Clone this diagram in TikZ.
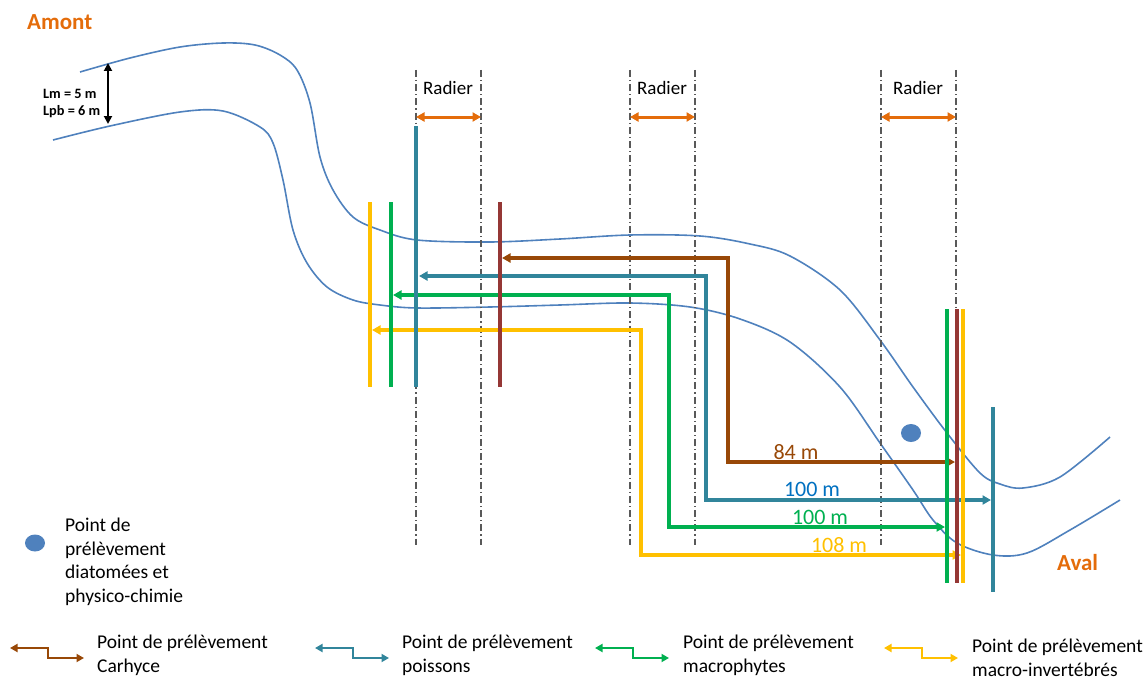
\documentclass[tikz,border=0pt]{standalone}
\usepackage{fontspec}
\setmainfont{Carlito}
\usetikzlibrary{arrows.meta,shapes.geometric}
\definecolor{riverblue}{RGB}{79,129,189}
\definecolor{orng}{RGB}{228,108,10}
\definecolor{tealc}{RGB}{49,133,155}
\definecolor{brownc}{RGB}{152,72,7}
\definecolor{redc}{RGB}{149,55,53}
\definecolor{greenc}{RGB}{0,176,80}
\definecolor{yellowc}{RGB}{255,192,0}
\definecolor{bluetxt}{RGB}{0,112,192}
\definecolor{dashgray}{RGB}{89,89,89}
\begin{document}
\begin{tikzpicture}[x=1pt,y=-1pt,
  riverline/.style={draw=riverblue,line width=1.6pt},
  radline/.style={draw=dashgray,line width=1.2pt,dash pattern=on 7pt off 3pt on 1.2pt off 3pt},
  radarrow/.style={draw=orng,line width=3pt,{Triangle[length=8.5pt,width=9pt]}-{Triangle[length=8.5pt,width=9pt]}},
  sampline/.style={line width=4pt},
  measarrow/.style={line width=3.2pt,{Triangle[length=8.5pt,width=9pt]}-{Triangle[length=8.5pt,width=9pt]}},
  legarrow/.style={line width=2.5pt,{Triangle[length=7.5pt,width=8pt]}-{Triangle[length=7.5pt,width=8pt]}},
  radtxt/.style={font=\fontsize{19}{22}\selectfont,inner sep=0pt},
  distlab/.style={font=\fontsize{22}{26}\selectfont,inner sep=0pt},
  legtxt/.style={font=\fontsize{19.5}{24}\selectfont,inner sep=0pt,align=left,anchor=west},
  bigtxt/.style={font=\fontsize{23}{27}\selectfont\bfseries,text=orng,inner sep=0pt},
  dotstyle/.style={ellipse,fill=riverblue,minimum width=20pt,minimum height=18pt,inner sep=0pt}
]
\useasboundingbox (0,0) rectangle (1146,677);

% river banks
\draw[riverline] plot[smooth,tension=0.55] coordinates {(80,72) (130,58) (180,47) (223,43) (255,45) (280,55) (297,70) (310,103) (320,157) (333,190) (353,217) (380,230) (417,240) (490,242) (560,239) (630,235) (700,236) (750,244) (790,256) (840,290) (880,340) (913,387) (947,433) (980,473) (1000,484) (1023,488) (1060,477) (1110,437)};
\draw[riverline] plot[smooth,tension=0.55] coordinates {(53,140) (110,126) (180,112) (223,111) (260,127) (273,143) (283,180) (293,230) (307,263) (327,287) (353,300) (380,305) (417,308) (490,307) (560,305) (630,303) (690,307) (740,319) (790,342) (840,387) (880,443) (913,490) (933,520) (957,543) (993,555) (1027,553) (1070,530) (1120,500)};

% titles
\node[bigtxt,anchor=west] (amont) at (27,22) {Amont};
\node[bigtxt,anchor=west] (aval) at (1057,563) {Aval};

% width arrow
\coordinate (lmtop) at (108,63);
\coordinate (lmbot) at (108,124);
\draw[line width=1.8pt,{Triangle[length=8pt,width=8pt]}-{Triangle[length=8pt,width=8pt]}] (lmtop) -- (lmbot);
\node[font=\fontsize{14.3}{17}\selectfont\bfseries,inner sep=0pt,anchor=west,align=left] (lmtxt) at (43,103) {Lm = 5 m\\Lpb = 6 m};

% radier dash-dot lines
\foreach \x/\n in {416/r1a,481/r1b,630/r2a,695/r2b,881/r3a,956/r3b}{
  \coordinate (\n t) at (\x,70);
  \coordinate (\n b) at (\x,545);
  \draw[radline] (\n t) -- (\n b);
}
\node[radtxt] (rad1) at (448,88) {Radier};
\node[radtxt] (rad2) at (662,88) {Radier};
\node[radtxt] (rad3) at (918,88) {Radier};
\coordinate (ra1) at (416,117); \coordinate (rb1) at (481,117);
\coordinate (ra2) at (630,117); \coordinate (rb2) at (695,117);
\coordinate (ra3) at (881,117); \coordinate (rb3) at (956,117);
\draw[radarrow] (ra1) -- (rb1);
\draw[radarrow] (ra2) -- (rb2);
\draw[radarrow] (ra3) -- (rb3);

% measurement arrows
\coordinate (carA) at (502,258);  \coordinate (carK) at (728,462);  \coordinate (carB) at (955,462);
\coordinate (poiA) at (419,276);  \coordinate (poiK) at (706,500);  \coordinate (poiB) at (991,500);
\coordinate (macA) at (393,295);  \coordinate (macK) at (669,527);  \coordinate (macB) at (945,527);
\coordinate (invA) at (372,330);  \coordinate (invK) at (641,555);  \coordinate (invB) at (961,555);
\draw[measarrow,draw=brownc] (carA) -| (carK) -- (carB);
\draw[measarrow,draw=tealc] (poiA) -| (poiK) -- (poiB);
\draw[measarrow,draw=greenc] (macA) -| (macK) -- (macB);
\draw[measarrow,draw=yellowc] (invA) -| (invK) -- (invB);

% left sampling lines
\coordinate (yl1) at (370,202); \coordinate (yl2) at (370,387);
\coordinate (gl1) at (391,202); \coordinate (gl2) at (391,387);
\coordinate (tl1) at (416,126); \coordinate (tl2) at (416,387);
\coordinate (rl1) at (500,202); \coordinate (rl2) at (500,387);
\draw[sampline,yellowc] (yl1) -- (yl2);
\draw[sampline,greenc] (gl1) -- (gl2);
\draw[sampline,tealc] (tl1) -- (tl2);
\draw[sampline,redc] (rl1) -- (rl2);
% right sampling lines
\coordinate (gr1) at (947,309); \coordinate (gr2) at (947,583);
\coordinate (rr1) at (956.5,309); \coordinate (rr2) at (956.5,583);
\coordinate (yr1) at (962.5,309); \coordinate (yr2) at (962.5,583);
\coordinate (tr1) at (993,407); \coordinate (tr2) at (993,592);
\draw[sampline,greenc] (gr1) -- (gr2);
\draw[sampline,redc] (rr1) -- (rr2);
\draw[sampline,yellowc] (yr1) -- (yr2);
\draw[sampline,tealc] (tr1) -- (tr2);

% distance labels
\node[distlab,text=brownc] (d84) at (796,452) {84 m};
\node[distlab,text=bluetxt] (d100a) at (812,489) {100 m};
\node[distlab,text=greenc] (d100b) at (820,517) {100 m};
\node[distlab,text=yellowc] (d108) at (839,545) {108 m};

% sampling point
\node[dotstyle] (dot) at (911,433) {};

% legend
\node[dotstyle,minimum height=17pt] (legdot) at (35,543) {};
\node[legtxt,font=\fontsize{19.5}{23.5}\selectfont] (legdia) at (65,562) {Point de\\prélèvement\\diatomées et\\physico-chimie};

\foreach \x/\c/\n in {10/brownc/lb,315/tealc/lt,595/greenc/lg,884/yellowc/ly}{
  \coordinate (\n A) at (\x,648);
  \coordinate (\n K) at ({\x+38},658);
  \coordinate (\n B) at ({\x+74},658);
  \draw[legarrow,draw=\c] (\n A) -| (\n K) -- (\n B);
}
\node[legtxt] (legcar) at (97,655) {Point de prélèvement\\Carhyce};
\node[legtxt] (legpoi) at (402,655) {Point de prélèvement\\poissons};
\node[legtxt] (legmac) at (683,655) {Point de prélèvement\\macrophytes};
\node[legtxt] (leginv) at (972,658) {Point de prélèvement\\macro-invertébrés};
\end{tikzpicture}
\end{document}
